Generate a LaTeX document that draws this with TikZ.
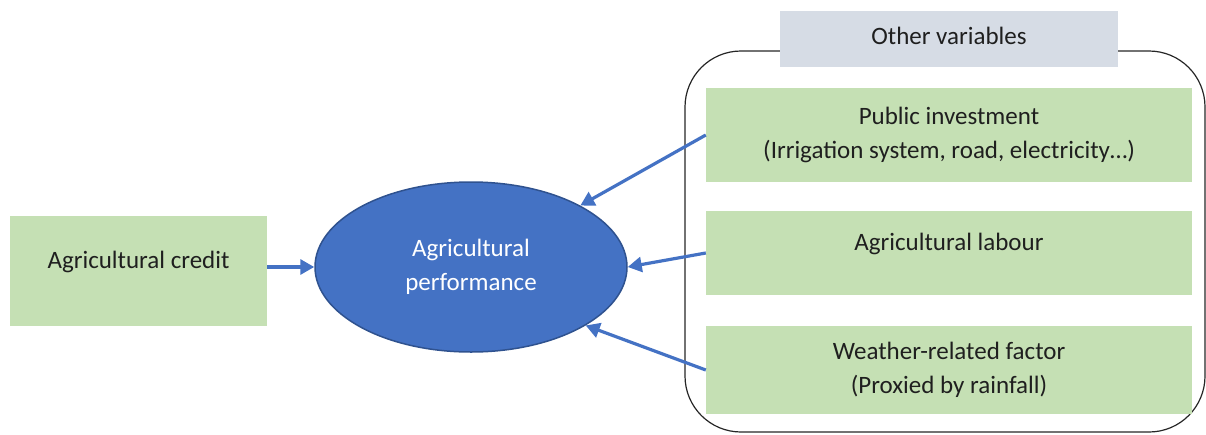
\documentclass[tikz,border=0pt]{standalone}
\usepackage{fontspec}
\setmainfont{Carlito}
\usetikzlibrary{arrows.meta,shapes.geometric}

\definecolor{boxgreen}{HTML}{C5E0B4}
\definecolor{accent}{HTML}{4472C4}
\definecolor{labelgray}{HTML}{D6DCE5}
\definecolor{ellborder}{HTML}{2F528F}
\definecolor{txt}{HTML}{1F1F1F}

\begin{document}
\begin{tikzpicture}[x=1pt,y=1pt,
  every node/.style={font=\fontsize{25}{34}\selectfont, text=txt, inner sep=0pt},
  varbox/.style={rectangle, fill=boxgreen, minimum width=486pt, align=center},
  oneline/.style={text height=17pt, text depth=23pt},
  flow/.style={accent, line width=3.2pt, -{Triangle[length=14pt,width=15pt]}},
]
\useasboundingbox (0,0) rectangle (1206,-434);

% group frame for the additional variables
\node (group) [draw=black!85, line width=1.2pt, rounded corners=56pt,
  minimum width=520pt, minimum height=381pt] at (945,-241.5) {};
\node (other) [fill=labelgray, minimum width=338pt, minimum height=56pt,
  text height=17pt, text depth=7pt] at (949,-39) {Other variables};

% explanatory variables
\node (pub) [varbox, minimum height=94pt] at (949,-135)
  {Public investment\\(Irrigation system, road, electricity…)};
\node (lab) [varbox, oneline, minimum height=84pt] at (949,-253)
  {Agricultural labour};
\node (wea) [varbox, minimum height=88pt] at (949,-370)
  {Weather-related factor\\(Proxied by rainfall)};

\node (credit) [rectangle, fill=boxgreen, oneline, minimum width=257pt,
  minimum height=110pt] at (138.5,-271) {Agricultural credit};

% outcome
\node (perf) [ellipse, fill=accent, draw=ellborder, line width=1.5pt,
  minimum width=312pt, minimum height=170pt, align=center, text=white]
  at (471,-267) {Agricultural\\performance};

% effects
\draw[flow] (credit.east |- perf.west) -- (perf.west);
\draw[flow] (pub.west) -- (perf);
\draw[flow] (lab.west) -- (perf.east);
\draw[flow] (wea.west) -- (perf.-27);
\end{tikzpicture}
\end{document}
